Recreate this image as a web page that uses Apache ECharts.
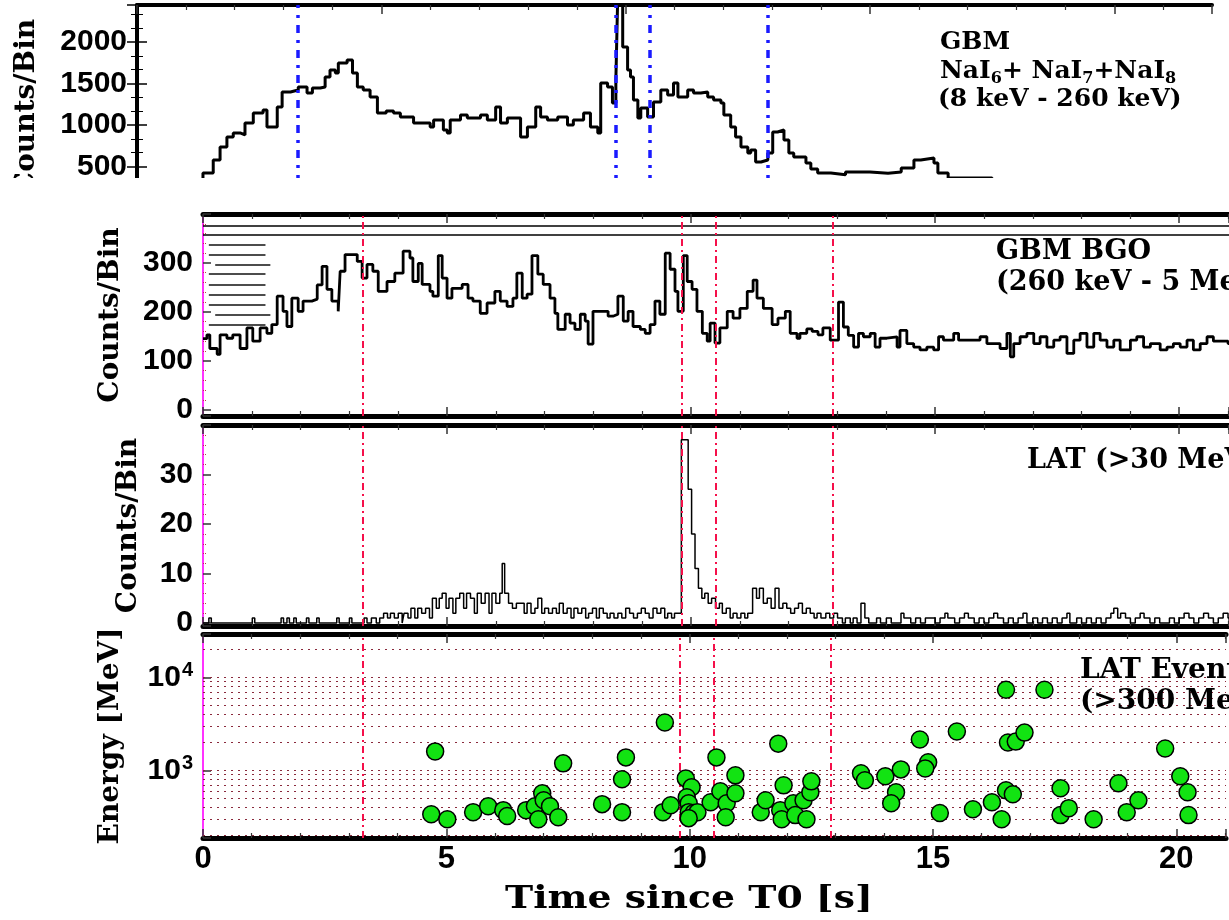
<!DOCTYPE html>
<html>
<head>
<meta charset="utf-8">
<script src="https://cdn.jsdelivr.net/npm/echarts@6/dist/echarts.min.js"></script>
<style>
  html, body { margin: 0; padding: 0; background: #fff; }
  #main { width: 1229px; height: 920px; }
</style>
</head>
<body>
<div id="main"></div>
<script>
// ---- GBM NaI (8 keV - 260 keV) light curve: bin start [s], counts/bin ----
const naiTime = [0.0, 0.5, 0.9, 1.1, 1.35, 1.56, 1.70, 1.84, 1.97, 2.11, 2.21, 2.38, 2.58, 2.66, 2.87, 2.97, 3.14, 3.30, 3.48, 3.59, 3.75, 3.85, 3.95, 4.06, 4.12, 4.30, 4.41, 4.51, 4.63, 4.77, 4.92, 5.10, 5.25, 5.39, 5.66, 6.00, 6.07, 6.27, 6.35, 6.41, 6.62, 6.76, 7.03, 7.17, 7.34, 7.44, 7.58, 7.85, 7.99, 8.16, 8.26, 8.40, 8.61, 8.81, 8.93, 9.14, 9.28, 9.43, 9.49, 9.63, 9.73, 9.80, 9.84, 9.94, 10.04, 10.10, 10.16, 10.25, 10.31, 10.45, 10.57, 10.72, 10.86, 10.98, 11.07, 11.27, 11.39, 11.54, 11.68, 11.80, 11.95, 12.01, 12.15, 12.25, 12.36, 12.50, 12.56, 12.66, 12.77, 12.91, 13.01, 13.11, 13.24, 13.34, 13.44, 13.69, 13.79, 13.93, 14.2, 14.5, 15.0, 15.37, 15.64, 15.90, 16.04, 16.31, 16.39, 16.6, 17.5, 19.0, 20.5, 22.0];
const naiCounts = [150, 200, 300, 330, 422, 578, 735, 856, 904, 880, 1024, 1145, 1181, 976, 1217, 1398, 1422, 1458, 1386, 1446, 1458, 1579, 1663, 1627, 1747, 1783, 1627, 1458, 1422, 1338, 1145, 1170, 1145, 1097, 1024, 976, 1060, 940, 904, 1060, 1121, 1085, 1121, 1060, 1217, 1024, 1085, 856, 976, 1217, 1097, 1060, 1097, 1000, 1060, 1145, 976, 904, 1506, 1458, 1265, 1542, 2600, 1940, 1663, 1579, 1301, 1085, 1205, 1097, 1277, 1422, 1362, 1506, 1338, 1422, 1386, 1398, 1338, 1301, 1265, 1121, 976, 856, 735, 663, 699, 554, 578, 663, 916, 940, 819, 663, 615, 542, 470, 422, 400, 434, 420, 434, 482, 578, 602, 542, 422, 360, 320, 280, 260, 250];

// ---- GBM BGO (260 keV - 5 MeV) light curve ----
const bgoTime = [0.0, 0.08, 0.14, 0.29, 0.35, 0.49, 0.61, 0.76, 0.90, 1.02, 1.17, 1.31, 1.41, 1.52, 1.64, 1.72, 1.82, 1.95, 2.05, 2.23, 2.34, 2.44, 2.54, 2.64, 2.77, 2.81, 2.91, 3.16, 3.26, 3.36, 3.48, 3.59, 3.77, 3.93, 4.10, 4.24, 4.30, 4.41, 4.49, 4.65, 4.71, 4.82, 4.90, 5.00, 5.10, 5.31, 5.43, 5.53, 5.68, 5.82, 5.98, 6.09, 6.23, 6.35, 6.43, 6.54, 6.64, 6.74, 6.86, 6.97, 7.11, 7.21, 7.27, 7.42, 7.52, 7.62, 7.73, 7.83, 7.89, 7.99, 8.30, 8.40, 8.50, 8.61, 8.71, 8.81, 8.96, 9.06, 9.16, 9.26, 9.36, 9.47, 9.57, 9.67, 9.73, 9.84, 9.92, 10.02, 10.12, 10.23, 10.33, 10.39, 10.49, 10.59, 10.74, 10.86, 11.00, 11.15, 11.27, 11.35, 11.48, 11.66, 11.78, 11.93, 12.03, 12.17, 12.23, 12.37, 12.48, 12.60, 12.70, 12.85, 13.02, 13.12, 13.22, 13.33, 13.43, 13.53, 13.67, 13.77, 13.87, 14.01, 14.22, 14.28, 14.42, 14.56, 14.69, 14.83, 14.97, 15.07, 15.17, 15.38, 15.48, 15.92, 16.06, 16.33, 16.47, 16.54, 16.61, 16.74, 16.88, 17.02, 17.15, 17.29, 17.43, 17.56, 17.70, 17.84, 17.97, 18.11, 18.25, 18.38, 18.52, 18.66, 18.79, 19.00, 19.13, 19.27, 19.41, 19.61, 19.75, 19.88, 20.02, 20.16, 20.29, 20.43, 20.57, 20.70, 21.00, 21.40, 22.0];
const bgoCounts = [145, 153, 125, 113, 153, 146, 153, 125, 167, 140, 167, 156, 174, 232, 201, 170, 228, 201, 222, 226, 255, 293, 246, 222, 201, 283, 317, 303, 269, 297, 283, 242, 262, 279, 324, 310, 262, 299, 256, 242, 232, 315, 269, 228, 248, 256, 228, 222, 197, 218, 242, 222, 211, 228, 279, 228, 236, 315, 277, 256, 228, 197, 164, 195, 177, 164, 195, 181, 134, 201, 191, 195, 232, 181, 201, 170, 164, 156, 174, 222, 195, 320, 287, 242, 201, 315, 262, 246, 201, 156, 140, 177, 136, 167, 201, 187, 207, 242, 265, 228, 207, 174, 187, 201, 156, 146, 156, 165, 160, 153, 167, 142, 220, 169, 152, 128, 156, 149, 156, 128, 146, 149, 128, 162, 135, 128, 122, 128, 122, 149, 142, 156, 142, 149, 135, 125, 156, 108, 135, 149, 156, 135, 149, 128, 142, 149, 115, 142, 156, 128, 156, 142, 128, 142, 122, 142, 149, 128, 135, 122, 128, 135, 128, 142, 122, 135, 149, 140, 135, 130, 130];

// ---- LAT (>30 MeV) light curve ----
const latTime = [0.0, 0.12, 0.17, 1.01, 1.06, 1.60, 1.65, 1.72, 1.77, 1.86, 1.91, 2.12, 2.17, 2.33, 2.38, 2.74, 2.79, 3.00, 3.05, 3.30, 3.36, 3.45, 3.55, 3.62, 3.70, 3.78, 3.84, 3.92, 4.00, 4.08, 4.12, 4.20, 4.26, 4.34, 4.40, 4.48, 4.56, 4.64, 4.70, 4.78, 4.84, 4.90, 4.98, 5.04, 5.12, 5.18, 5.26, 5.34, 5.40, 5.48, 5.56, 5.62, 5.70, 5.78, 5.86, 5.92, 6.00, 6.08, 6.13, 6.18, 6.26, 6.34, 6.42, 6.50, 6.58, 6.64, 6.72, 6.80, 6.86, 6.94, 7.00, 7.08, 7.16, 7.24, 7.30, 7.38, 7.46, 7.54, 7.60, 7.68, 7.76, 7.84, 7.90, 7.98, 8.06, 8.12, 8.20, 8.28, 8.34, 8.42, 8.50, 8.58, 8.66, 8.74, 8.82, 8.90, 8.98, 9.06, 9.14, 9.22, 9.30, 9.38, 9.46, 9.52, 9.60, 9.66, 9.80, 9.94, 10.01, 10.08, 10.15, 10.22, 10.28, 10.35, 10.42, 10.50, 10.58, 10.64, 10.72, 10.80, 10.86, 10.94, 11.02, 11.10, 11.16, 11.26, 11.34, 11.40, 11.48, 11.56, 11.64, 11.72, 11.80, 11.88, 11.96, 12.04, 12.12, 12.20, 12.28, 12.36, 12.44, 12.52, 12.58, 12.66, 12.76, 12.84, 12.92, 13.00, 13.10, 13.16, 13.26, 13.32, 13.40, 13.48, 13.56, 13.64, 13.80, 13.88, 14.00, 14.10, 14.30, 14.36, 14.50, 14.60, 14.70, 14.80, 15.00, 15.10, 15.20, 15.26, 15.40, 15.50, 15.60, 15.68, 15.80, 15.90, 16.00, 16.10, 16.20, 16.28, 16.40, 16.50, 16.60, 16.70, 16.80, 16.88, 17.00, 17.10, 17.20, 17.30, 17.40, 17.50, 17.60, 17.70, 17.76, 17.90, 18.00, 18.10, 18.20, 18.30, 18.40, 18.50, 18.60, 18.66, 18.74, 18.80, 18.90, 19.00, 19.10, 19.20, 19.28, 19.40, 19.50, 19.60, 19.80, 19.90, 20.00, 20.10, 20.20, 20.30, 20.40, 20.50, 20.60, 20.70, 20.80, 20.90, 21.00, 21.20, 21.30, 21.40, 21.60, 22.0];
const latCounts = [0, 1, 0, 1, 0, 1, 0, 1, 0, 1, 0, 1, 0, 1, 0, 1, 0, 1, 0, 1, 0, 1, 0, 1, 2, 1, 2, 1, 2, 0, 2, 1, 3, 1, 3, 2, 3, 1, 5, 3, 5, 6, 3, 5, 2, 5, 6, 3, 6, 5, 2, 6, 4, 6, 2, 6, 4, 6, 12, 6, 4, 3, 4, 4, 2, 4, 2, 3, 5, 2, 3, 2, 3, 2, 4, 2, 3, 1, 3, 2, 3, 1, 2, 3, 1, 3, 2, 1, 2, 1, 2, 1, 3, 2, 1, 2, 3, 2, 1, 3, 2, 3, 1, 2, 1, 2, 37, 27, 18, 11, 7, 5, 6, 4, 5, 3, 4, 2, 3, 1, 2, 1, 2, 1, 2, 7, 5, 7, 4, 5, 3, 7, 3, 4, 3, 2, 3, 4, 2, 3, 2, 1, 2, 1, 2, 1, 2, 1, 0, 1, 0, 1, 0, 4, 1, 0, 1, 0, 1, 0, 2, 1, 0, 1, 0, 1, 0, 1, 2, 1, 0, 1, 2, 1, 0, 1, 0, 1, 2, 1, 0, 1, 0, 1, 2, 0, 1, 0, 1, 0, 1, 0, 1, 2, 0, 1, 0, 1, 0, 1, 0, 1, 2, 3, 1, 2, 1, 0, 1, 2, 1, 0, 1, 0, 1, 0, 1, 2, 1, 0, 1, 2, 1, 0, 1, 2, 1, 0, 1, 2, 1, 0];

// ---- LAT events (>300 MeV): arrival time [s], energy [MeV] ----
const evtTime = [4.77, 4.69, 5.02, 5.55, 5.86, 6.17, 6.25, 6.64, 6.82, 6.97, 7.00, 7.13, 6.89, 7.30, 7.40, 8.20, 8.61, 8.61, 8.69, 9.49, 9.45, 9.61, 9.92, 10.04, 9.94, 9.98, 9.98, 10.08, 10.16, 9.98, 10.43, 10.55, 10.63, 10.76, 10.74, 10.94, 10.94, 11.46, 11.56, 11.82, 11.93, 11.86, 11.89, 12.13, 12.17, 12.34, 12.40, 12.48, 12.50, 13.52, 13.60, 14.02, 14.34, 14.24, 14.14, 14.73, 14.90, 14.84, 15.14, 15.49, 15.82, 16.21, 16.41, 16.50, 16.64, 16.50, 16.54, 16.70, 16.88, 17.29, 17.62, 17.62, 17.79, 18.30, 18.81, 18.98, 19.22, 19.77, 20.08, 20.23, 20.25];
const evtEnergy = [1600, 337, 298, 355, 411, 373, 322, 373, 411, 566, 476, 411, 298, 313, 1190, 433, 355, 801, 1380, 3270, 355, 422, 820, 658, 513, 443, 355, 347, 355, 306, 454, 1380, 596, 443, 313, 884, 566, 355, 476, 1940, 690, 373, 298, 443, 330, 476, 298, 581, 762, 929, 782, 863, 1025, 581, 443, 2150, 1220, 1050, 347, 2620, 382, 454, 298, 611, 553, 7380, 1995, 2040, 2550, 7380, 330, 641, 392, 298, 726, 355, 476, 1720, 863, 581, 330];

// ---- reference epochs [s] marked across the panels ----
const epochTimes = [3.28, 9.8, 10.5, 12.9];
// energy reference levels [MeV] for the dotted rules of the events panel
const energyRules = [200, 300, 400, 500, 600, 700, 800, 900, 1000, 2000, 3000, 4000, 5000, 6000, 7000, 8000, 9000, 10000, 20000];
// BGO panel rules: full-width levels and short left-hand strokes
const bgoRuleLevels = [358, 375];
const bgoStrokeLevels = [338, 317, 296, 277, 256, 234, 215, 195, 174];
const bgoStrokeStart = [0.12, 0.12, 0.25, 0.12, 0.12, 0.12, 0.12, 0.25, 0.12];
const bgoStrokeEnd = [1.28, 1.28, 1.38, 1.28, 1.28, 1.28, 1.28, 1.38, 1.28];

const SERIF = 'DejaVu Serif';
const SANS = 'Liberation Sans';
const T_MAX_TOP = 22;      // time span of the NaI panel [s]
const T_MAX_LOW = 21.02;   // time span shown by the lower panels [s]

const pair = (xs, ys) => xs.map((x, i) => [x, ys[i]]);

const grids = [
  { left: 137, top: 5, width: 1075, height: 203 },   // GBM NaI
  { left: 203, top: 214, right: 0, height: 202 },    // GBM BGO
  { left: 203, top: 425, right: 0, height: 201 },    // LAT counts
  { left: 203, top: 634, right: 0, height: 204 }     // LAT events
];

function timeAxis(g, pos, lineWidth, showLine, showLabel) {
  return {
    type: 'value', gridIndex: g, min: 0, max: g === 0 ? T_MAX_TOP : T_MAX_LOW, interval: 5, position: pos,
    axisLine: { show: showLine, onZero: false, lineStyle: { color: '#000', width: lineWidth } },
    axisTick: { show: true, inside: true, length: 9, lineStyle: { color: '#333', width: 1.5 } },
    minorTick: { show: true, splitNumber: 5, length: 5, lineStyle: { color: '#333', width: 1.2 } },
    axisLabel: {
      show: showLabel, margin: 6, color: '#000',
      fontFamily: SANS, fontWeight: 'bold', fontSize: 31,
      formatter: v => (v <= 20 && v % 5 === 0 ? String(v) : '')
    },
    splitLine: { show: false }
  };
}

const xAxes = [];
grids.forEach((gr, g) => {
  xAxes.push(timeAxis(g, 'bottom', 5, g > 0, g === 3));
  xAxes.push(timeAxis(g, 'top', g === 0 ? 4 : 5, true, false));
});

const labelStyle = { color: '#000', fontFamily: SANS, fontWeight: 'bold', fontSize: 30, margin: 10 };
const nameStyle = { color: '#000', fontFamily: SERIF, fontWeight: 'bold', fontSize: 28 };

const yAxes = [
  {
    type: 'value', gridIndex: 0, min: 0, max: 2446, splitNumber: 5,
    axisLine: { show: true, lineStyle: { color: '#000', width: 4 } },
    axisTick: { inside: true, length: 10, lineStyle: { color: '#000', width: 1.5 } },
    minorTick: { show: true, splitNumber: 3, length: 6, lineStyle: { color: '#000' } },
    axisLabel: Object.assign({}, labelStyle, { formatter: v => (v > 0 && v % 500 === 0 ? String(v) : '') }),
    splitLine: { show: false },
    name: 'Counts/Bin', nameLocation: 'middle', nameGap: 96, nameRotate: 90, nameTextStyle: nameStyle
  },
  {
    type: 'value', gridIndex: 0, min: 0, max: 2446, splitNumber: 5, position: 'right',
    axisLine: { show: true, lineStyle: { color: '#000', width: 3 } },
    axisTick: { inside: true, length: 10, lineStyle: { color: '#000', width: 1.5 } },
    minorTick: { show: true, splitNumber: 3, length: 6, lineStyle: { color: '#000' } },
    axisLabel: { show: false }, splitLine: { show: false }
  },
  {
    type: 'value', gridIndex: 1, min: -13, max: 400, splitNumber: 4,
    axisLine: { show: true, lineStyle: { color: '#ff33ff', width: 2 } },
    axisTick: { inside: true, length: 8, lineStyle: { color: '#333', width: 1.5 } },
    minorTick: { show: true, splitNumber: 5, length: 4, lineStyle: { color: '#c03050', type: 'dotted' } },
    axisLabel: Object.assign({}, labelStyle, { formatter: v => (v >= 0 && v <= 300 && v % 100 === 0 ? String(v) : '') }),
    splitLine: { show: false },
    name: 'Counts/Bin', nameLocation: 'middle', nameGap: 78, nameRotate: 90, nameTextStyle: nameStyle
  },
  {
    type: 'value', gridIndex: 2, min: -0.6, max: 40, splitNumber: 4,
    axisLine: { show: true, lineStyle: { color: '#ff33ff', width: 2 } },
    axisTick: { inside: true, length: 8, lineStyle: { color: '#333', width: 1.5 } },
    minorTick: { show: true, splitNumber: 5, length: 4, lineStyle: { color: '#c03050', type: 'dotted' } },
    axisLabel: Object.assign({}, labelStyle, { formatter: v => (v >= 0 && v <= 30 && v % 10 === 0 ? String(v) : '') }),
    splitLine: { show: false },
    name: 'Counts/Bin', nameLocation: 'middle', nameGap: 60, nameRotate: 90, nameTextStyle: nameStyle
  },
  {
    type: 'log', gridIndex: 3, min: 187, max: 29400, logBase: 10,
    axisLine: { show: true, lineStyle: { color: '#ff33ff', width: 2 } },
    axisTick: { inside: true, length: 8, lineStyle: { color: '#333', width: 1.5 } },
    axisLabel: Object.assign({}, labelStyle, {
      formatter: v => {
        const p = Math.round(Math.log10(v));
        if (Math.abs(Math.log10(v) - p) > 1e-6 || (p !== 3 && p !== 4)) return '';
        return '{b|10}{s|' + p + '}';
      },
      rich: {
        b: { fontFamily: SANS, fontWeight: 'bold', fontSize: 30, color: '#000' },
        s: { fontFamily: SANS, fontWeight: 'bold', fontSize: 20, color: '#000', padding: [0, 0, 14, 1] }
      }
    }),
    splitLine: { show: false },
    name: 'Energy [MeV]', nameLocation: 'middle', nameGap: 78, nameRotate: 90, nameTextStyle: nameStyle
  }
];

const redDash = { color: '#f5104a', width: 2, type: [7, 4, 2, 4] };
const blueDash = { color: '#1a1aff', width: 3.5, type: [8, 7, 3, 7] };
const noMark = { symbol: ['none', 'none'], silent: true, animation: false, label: { show: false } };

const series = [
  {
    name: 'GBM NaI', type: 'line', step: 'end', xAxisIndex: 0, yAxisIndex: 0,
    data: pair(naiTime, naiCounts), showSymbol: false, symbol: 'none',
    lineStyle: { color: '#000', width: 3 },
    markLine: Object.assign({}, noMark, {
      data: epochTimes.map(t => ({ xAxis: t, lineStyle: blueDash }))
    })
  },
  {
    name: 'GBM BGO', type: 'line', step: 'end', xAxisIndex: 2, yAxisIndex: 2,
    data: pair(bgoTime, bgoCounts), showSymbol: false, symbol: 'none',
    lineStyle: { color: '#000', width: 2.8 },
    markLine: Object.assign({}, noMark, {
      data: []
        .concat(bgoRuleLevels.map(v => ({ yAxis: v, lineStyle: { color: '#000', width: 1.5, type: 'solid' } })))
        .concat(bgoStrokeLevels.map((v, i) => [
          { coord: [bgoStrokeStart[i], v], lineStyle: { color: '#111', width: 1.6, type: 'solid' } },
          { coord: [bgoStrokeEnd[i], v] }
        ]))
        .concat(epochTimes.map(t => ({ xAxis: t, lineStyle: redDash })))
    })
  },
  {
    name: 'LAT >30 MeV', type: 'line', step: 'end', xAxisIndex: 4, yAxisIndex: 3,
    data: pair(latTime, latCounts), showSymbol: false, symbol: 'none',
    lineStyle: { color: '#000', width: 1.5 },
    markLine: Object.assign({}, noMark, {
      data: epochTimes.map(t => ({ xAxis: t, lineStyle: redDash }))
    })
  },
  {
    name: 'LAT events', type: 'scatter', xAxisIndex: 6, yAxisIndex: 4,
    data: pair(evtTime, evtEnergy), symbol: 'circle', symbolSize: 17,
    itemStyle: { color: '#12e312', borderColor: '#000', borderWidth: 1.5, opacity: 1 },
    z: 5,
    markLine: Object.assign({}, noMark, {
      data: energyRules.map(v => ({ yAxis: v, lineStyle: { color: '#8a2a3c', width: 1.2, type: [2, 5] } }))
        .concat(epochTimes.map(t => ({ xAxis: t, lineStyle: redDash })))
    })
  }
];

const chart = echarts.init(document.getElementById('main'), null, { renderer: 'canvas' });
chart.setOption({
  animation: false,
  backgroundColor: '#fff',
  grid: grids.map(g => Object.assign({ containLabel: false }, g)),
  xAxis: xAxes,
  yAxis: yAxes,
  series: series,
  graphic: [
    // band separating the NaI panel from the panels below
    { type: 'rect', left: 0, top: 178, shape: { width: 1229, height: 32 }, style: { fill: '#fff' }, z: 50, silent: true },
    {
      type: 'text', left: 940, top: 30, z: 60,
      style: { text: 'GBM', font: 'bold 25px "DejaVu Serif"', fill: '#000' }
    },
    {
      type: 'text', left: 940, top: 59, z: 60,
      style: {
        text: '{m|NaI}{u|6}{m|+ NaI}{u|7}{m|+NaI}{u|8}',
        rich: {
          m: { font: 'bold 25px "DejaVu Serif"', fill: '#000', verticalAlign: 'bottom' },
          u: { font: 'bold 16px "DejaVu Serif"', fill: '#000', verticalAlign: 'bottom', padding: [0, 0, -3, 0] }
        }
      }
    },
    {
      type: 'text', left: 938, top: 87, z: 60,
      style: { text: '(8 keV - 260 keV)', font: 'bold 25px "DejaVu Serif"', fill: '#000' }
    },
    {
      type: 'text', left: 996, top: 236, z: 60,
      style: { text: 'GBM BGO\n(260 keV - 5 MeV)', font: 'bold 27px "DejaVu Serif"', lineHeight: 31, fill: '#000' }
    },
    {
      type: 'text', left: 1027, top: 447, z: 60,
      style: { text: 'LAT (>30 MeV)', font: 'bold 27px "DejaVu Serif"', fill: '#000' }
    },
    {
      type: 'text', left: 1080, top: 655, z: 60,
      style: { text: 'LAT Events\n(>300 MeV)', font: 'bold 28px "DejaVu Serif"', lineHeight: 31, fill: '#000' }
    },
    {
      type: 'text', x: 689, y: 884, scaleX: 1.22, z: 60,
      style: { text: 'Time since T0 [s]', font: 'bold 31px "DejaVu Serif"', fill: '#000', textAlign: 'center' }
    }
  ]
});
</script>
</body>
</html>
